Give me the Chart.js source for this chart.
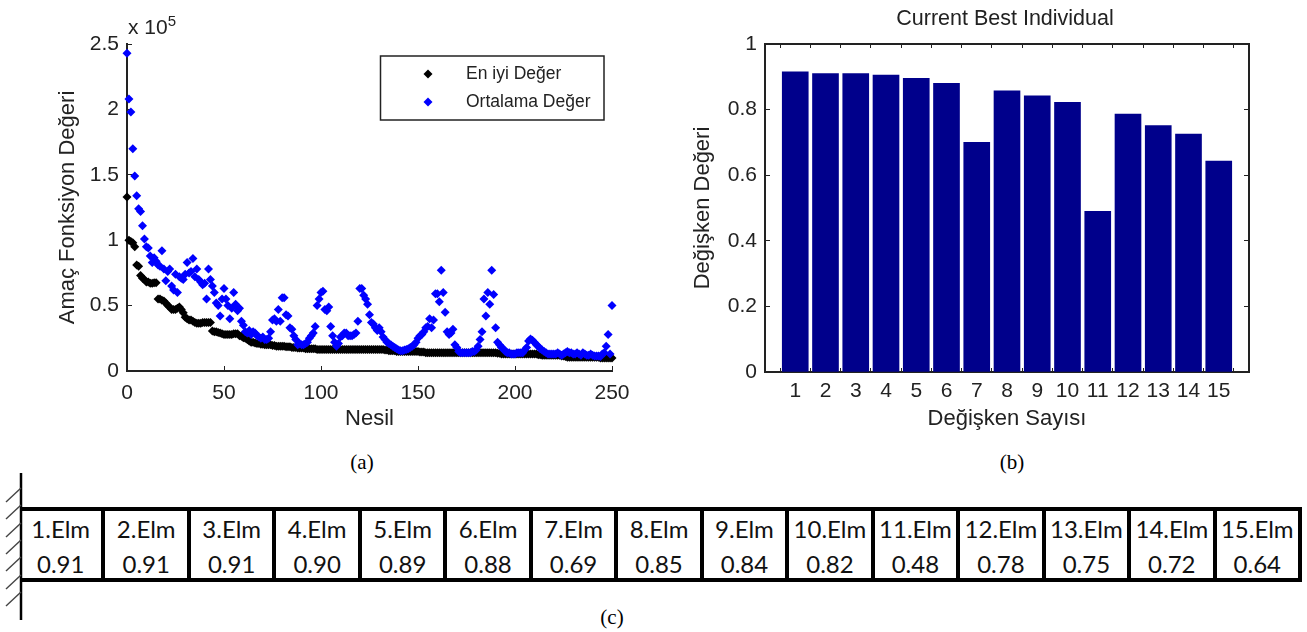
<!DOCTYPE html>
<html>
<head>
<meta charset="utf-8">
<script src="https://cdn.jsdelivr.net/npm/chart.js@4"></script>
<style>
  html, body { margin: 0; padding: 0; background: #fff; }
  #page { position: relative; width: 1307px; height: 632px; overflow: hidden; }
  canvas { position: absolute; top: 0; }
  .note { position: absolute; font-family: "Liberation Sans", sans-serif; color: #222; }
  .caption { position: absolute; font: 21px "Liberation Serif", serif; color: #000; transform: translateX(-50%); }
  #beam { position: absolute; left: 20px; top: 507px; width: 1282px; height: 75px; display: flex;
          box-sizing: border-box; border-top: 4px solid #000; border-bottom: 4px solid #000; }
  #beam div { flex: 1; box-sizing: border-box; border-right: 4px solid #000; text-align: center;
              font: 24px/35px Lato, sans-serif; color: #111; }
  svg { position: absolute; left: 0; top: 0; }
</style>
</head>
<body>
<div id="page">
  <canvas id="fitness" width="650" height="440" style="left:0"></canvas>
  <canvas id="variables" width="657" height="440" style="left:650px"></canvas>
  <div class="note" style="left:128px;top:15px;font-size:21px">x 10<sup style="font-size:15px;vertical-align:8px;line-height:0">5</sup></div>
  <div class="caption" style="left:362px;top:450px">(a)</div>
  <div class="caption" style="left:1012px;top:450px">(b)</div>
  <div id="beam"></div>
  <svg id="wall" width="40" height="632"></svg>
  <div class="caption" style="left:612px;top:605px">(c)</div>
</div>

<script>
// generation 0..250, values in units of 10^5
const bestValues = [
  1.33, 1.00, 0.99, 0.98, 0.95, 0.81, 0.80, 0.73, 0.71, 0.70,
  0.68, 0.68, 0.67, 0.67, 0.675, 0.675, 0.55, 0.55, 0.54, 0.535,
  0.52, 0.50, 0.49, 0.47, 0.47, 0.47, 0.48, 0.49, 0.47, 0.445,
  0.41, 0.40, 0.39, 0.39, 0.38, 0.37, 0.365, 0.365, 0.365, 0.37,
  0.37, 0.37, 0.37, 0.37, 0.305, 0.30, 0.30, 0.295, 0.29, 0.285,
  0.28, 0.28, 0.28, 0.28, 0.28, 0.285, 0.285, 0.285, 0.27, 0.265,
  0.255, 0.25, 0.24, 0.23, 0.22, 0.22, 0.215, 0.21, 0.21, 0.205,
  0.205, 0.20, 0.20, 0.20, 0.20, 0.195, 0.195, 0.19, 0.19, 0.19,
  0.19, 0.19, 0.185, 0.185, 0.185, 0.18, 0.18, 0.18, 0.175, 0.175,
  0.175, 0.175, 0.17, 0.17, 0.17, 0.17, 0.17, 0.17, 0.165, 0.165,
  0.165, 0.165, 0.165, 0.165, 0.165, 0.165, 0.165, 0.165, 0.165, 0.165,
  0.165, 0.165, 0.165, 0.165, 0.165, 0.165, 0.165, 0.165, 0.165, 0.165,
  0.165, 0.165, 0.165, 0.165, 0.165, 0.165, 0.165, 0.165, 0.165, 0.165,
  0.165, 0.165, 0.165, 0.16, 0.16, 0.155, 0.155, 0.155, 0.155, 0.15,
  0.15, 0.15, 0.15, 0.15, 0.15, 0.15, 0.15, 0.15, 0.15, 0.15,
  0.15, 0.145, 0.145, 0.145, 0.14, 0.14, 0.14, 0.14, 0.14, 0.14,
  0.14, 0.14, 0.14, 0.14, 0.14, 0.14, 0.14, 0.14, 0.14, 0.14,
  0.14, 0.14, 0.14, 0.14, 0.14, 0.14, 0.14, 0.14, 0.14, 0.14,
  0.14, 0.14, 0.14, 0.14, 0.14, 0.14, 0.14, 0.14, 0.14, 0.14,
  0.14, 0.135, 0.135, 0.13, 0.13, 0.13, 0.13, 0.13, 0.13, 0.13,
  0.13, 0.13, 0.13, 0.13, 0.13, 0.13, 0.13, 0.13, 0.13, 0.13,
  0.13, 0.13, 0.125, 0.125, 0.12, 0.12, 0.12, 0.12, 0.12, 0.12,
  0.12, 0.12, 0.12, 0.12, 0.115, 0.115, 0.11, 0.105, 0.105, 0.105,
  0.105, 0.105, 0.105, 0.105, 0.105, 0.105, 0.105, 0.105, 0.105, 0.105,
  0.105, 0.105, 0.105, 0.105, 0.10, 0.10, 0.10, 0.10, 0.10, 0.10,
  0.10
];
const meanValues = [
  2.43, 2.08, 1.98, 1.70, 1.49, 1.34, 1.24, 1.22, 1.11, 1.01,
  0.95, 0.94, 0.88, 0.83, 0.865, 0.84, 0.81, 0.80, 0.92, 0.78,
  0.69, 0.76, 0.78, 0.65, 0.62, 0.74, 0.60, 0.72, 0.71, 0.70,
  0.74, 0.83, 0.75, 0.76, 0.86, 0.72, 0.78, 0.70, 0.68, 0.66,
  0.67, 0.55, 0.78, 0.70, 0.65, 0.60, 0.52, 0.50, 0.42, 0.55,
  0.63, 0.55, 0.50, 0.40, 0.48, 0.60, 0.51, 0.46, 0.48, 0.38,
  0.35, 0.30, 0.29, 0.31, 0.28, 0.30, 0.29, 0.27, 0.26, 0.25,
  0.26, 0.24, 0.24, 0.25, 0.30, 0.39, 0.40, 0.38, 0.47, 0.38,
  0.56, 0.56, 0.43, 0.42, 0.33, 0.32, 0.27, 0.24, 0.20, 0.21,
  0.20, 0.20, 0.21, 0.22, 0.25, 0.27, 0.29, 0.34, 0.50, 0.55,
  0.60, 0.61, 0.47, 0.46, 0.49, 0.34, 0.27, 0.22, 0.19, 0.21,
  0.26, 0.27, 0.29, 0.29, 0.27, 0.27, 0.27, 0.28, 0.29, 0.38,
  0.63, 0.63, 0.58, 0.55, 0.51, 0.43, 0.37, 0.36, 0.33, 0.31,
  0.33, 0.30, 0.26, 0.24, 0.22, 0.21, 0.20, 0.19, 0.18, 0.17,
  0.16, 0.155, 0.155, 0.16, 0.165, 0.17, 0.18, 0.19, 0.20, 0.22,
  0.25, 0.27, 0.28, 0.30, 0.33, 0.34, 0.40, 0.33, 0.39, 0.59,
  0.59, 0.53, 0.77, 0.60, 0.45, 0.30, 0.28, 0.29, 0.32, 0.20,
  0.18, 0.15, 0.14, 0.14, 0.14, 0.14, 0.14, 0.14, 0.15, 0.15,
  0.16, 0.19, 0.24, 0.30, 0.55, 0.42, 0.60, 0.51, 0.77, 0.585,
  0.33, 0.22, 0.20, 0.18, 0.17, 0.15, 0.14, 0.14, 0.13, 0.13,
  0.13, 0.14, 0.14, 0.14, 0.14, 0.16, 0.18, 0.23, 0.245, 0.235,
  0.22, 0.20, 0.19, 0.17, 0.16, 0.15, 0.14, 0.13, 0.13, 0.13,
  0.13, 0.13, 0.14, 0.13, 0.12, 0.13, 0.14, 0.15, 0.14, 0.14,
  0.13, 0.13, 0.14, 0.13, 0.12, 0.14, 0.13, 0.12, 0.12, 0.13,
  0.12, 0.115, 0.115, 0.115, 0.11, 0.13, 0.14, 0.19, 0.28, 0.13,
  0.50
];
const barValues = [0.915, 0.91, 0.91, 0.905, 0.895, 0.88, 0.70, 0.857, 0.842, 0.822, 0.49, 0.786, 0.751, 0.725, 0.643];
const elementNames = ["1.Elm", "2.Elm", "3.Elm", "4.Elm", "5.Elm", "6.Elm", "7.Elm", "8.Elm", "9.Elm", "10.Elm", "11.Elm", "12.Elm", "13.Elm", "14.Elm", "15.Elm"];
const elementValues = ["0.91", "0.91", "0.91", "0.90", "0.89", "0.88", "0.69", "0.85", "0.84", "0.82", "0.48", "0.78", "0.75", "0.72", "0.64"];

const AXIS = "#222"
const TEXT = "#222"
const SANS = "Liberation Sans"

function axisGrid(tickLength) {
  return { drawOnChartArea: false, drawTicks: true, tickLength: tickLength, color: AXIS, lineWidth: 1 }
}

// the little legend box in the top right of the left plot
const legendBox = {
  id: "legendBox",
  afterDraw(chart) {
    const ctx = chart.ctx
    ctx.save()
    ctx.strokeStyle = AXIS
    ctx.lineWidth = 1.5
    ctx.strokeRect(380.5, 56, 223.5, 64)
    ctx.font = "17.5px " + SANS
    ctx.textBaseline = "middle"
    const rows = [chart.data.datasets[0], chart.data.datasets[1]]
    rows.forEach((ds, i) => {
      const y = 74 + i * 28
      ctx.fillStyle = ds.backgroundColor
      Chart.helpers.drawPoint(ctx, { pointStyle: "rectRot", radius: 4.5, rotation: 0, borderWidth: 0 }, 428, y)
      ctx.fillStyle = TEXT
      ctx.fillText(ds.label, 466, y)
    })
    ctx.restore()
  },
}

new Chart(document.getElementById("fitness"), {
  type: "scatter",
  data: {
    datasets: [
      {
        label: "En iyi Değer",
        data: bestValues.map((v, i) => ({ x: i, y: v })),
        backgroundColor: "#000",
        pointStyle: "rectRot",
        pointRadius: 4.5,
        pointBorderWidth: 0,
        clip: false,
        order: 2,
      },
      {
        label: "Ortalama Değer",
        data: meanValues.map((v, i) => ({ x: i, y: v })),
        backgroundColor: "#0000ff",
        pointStyle: "rectRot",
        pointRadius: 4.5,
        pointBorderWidth: 0,
        clip: false,
        order: 1,
      },
    ],
  },
  options: {
    responsive: false,
    animation: false,
    layout: { padding: { left: 55, top: 44, right: 38, bottom: 8 } },
    plugins: { legend: { display: false }, tooltip: { enabled: false } },
    scales: {
      x: {
        type: "linear",
        min: 0,
        max: 250,
        grid: axisGrid(-5),
        border: { color: AXIS, width: 2 },
        ticks: { stepSize: 50, padding: 15, color: TEXT, font: { family: SANS, size: 21 }, maxRotation: 0 },
        title: { display: true, text: "Nesil", color: TEXT, font: { family: SANS, size: 22 }, padding: 0 },
        afterFit(scale) { scale.height = 61 },
      },
      y: {
        min: 0,
        max: 2.5,
        grid: axisGrid(-5),
        border: { color: AXIS, width: 2 },
        ticks: { stepSize: 0.5, padding: 13, color: TEXT, font: { family: SANS, size: 21 }, callback: (v) => String(v) },
        title: { display: true, text: "Amaç Fonksiyon Değeri", color: TEXT, font: { family: SANS, size: 22 }, padding: 0 },
        afterFit(scale) { scale.width = 72 },
      },
    },
  },
  plugins: [legendBox],
})

new Chart(document.getElementById("variables"), {
  type: "bar",
  data: {
    datasets: [
      {
        label: "Current Best Individual",
        data: barValues.map((v, i) => ({ x: i + 1, y: v })),
        backgroundColor: "#00008b",
        barThickness: 26,
      },
    ],
  },
  options: {
    responsive: false,
    animation: false,
    layout: { padding: { left: 40, top: 44, right: 58, bottom: 8 } },
    plugins: { legend: { display: false }, tooltip: { enabled: false } },
    scales: {
      x: {
        type: "linear",
        offset: false,
        min: 0,
        max: 16,
        grid: axisGrid(-4),
        border: { color: AXIS, width: 2 },
        ticks: {
          stepSize: 1,
          padding: 11,
          autoSkip: false,
          maxRotation: 0,
          color: TEXT,
          font: { family: SANS, size: 21 },
          callback: (v) => (v === 0 || v === 16 ? "" : String(v)),
        },
        title: { display: true, text: "Değişken Sayısı", color: TEXT, font: { family: SANS, size: 22 }, padding: 0 },
        afterFit(scale) { scale.height = 60 },
      },
      xTop: {
        type: "linear",
        position: "top",
        offset: false,
        min: 0,
        max: 16,
        grid: axisGrid(-4),
        border: { color: AXIS, width: 2 },
        ticks: { stepSize: 1, display: false, autoSkip: false },
        afterFit(scale) { scale.height = 0 },
      },
      y: {
        min: 0,
        max: 1,
        grid: axisGrid(-5),
        border: { color: AXIS, width: 2 },
        ticks: { stepSize: 0.2, padding: 13, color: TEXT, font: { family: SANS, size: 21 }, callback: (v) => String(Math.round(v * 10) / 10) },
        title: { display: true, text: "Değişken Değeri", color: TEXT, font: { family: SANS, size: 22 }, padding: 0 },
        afterFit(scale) { scale.width = 75 },
      },
      yRight: {
        position: "right",
        min: 0,
        max: 1,
        grid: axisGrid(-5),
        border: { color: AXIS, width: 2 },
        ticks: { stepSize: 0.2, display: false },
        afterFit(scale) { scale.width = 0 },
      },
    },
  },
  plugins: [
    {
      id: "plotTitle",
      afterDraw(chart) {
        const ctx = chart.ctx
        ctx.save()
        ctx.font = "21.5px " + SANS
        ctx.fillStyle = TEXT
        ctx.textAlign = "center"
        ctx.textBaseline = "middle"
        ctx.fillText(chart.data.datasets[0].label, 355, 19)
        ctx.restore()
      },
    },
  ],
})

// the beam table under the plots
const beam = document.getElementById("beam")
elementNames.forEach((name, i) => {
  const cell = document.createElement("div")
  cell.innerHTML = name + "<br>" + elementValues[i]
  beam.appendChild(cell)
})

// fixed wall on the left end of the beam
const wallLines = [[21, 473, 21, 620]]
const hatchEnds = [488, 505, 523, 540, 557, 575, 592]
hatchEnds.forEach((y) => wallLines.push([6, y + 14, 21, y]))
document.getElementById("wall").innerHTML = wallLines
  .map((l, i) => `<line x1="${l[0]}" y1="${l[1]}" x2="${l[2]}" y2="${l[3]}" stroke="${i ? "#444" : "#000"}" stroke-width="${i ? 1.4 : 2.5}"/>`)
  .join("")
</script>
</body>
</html>
